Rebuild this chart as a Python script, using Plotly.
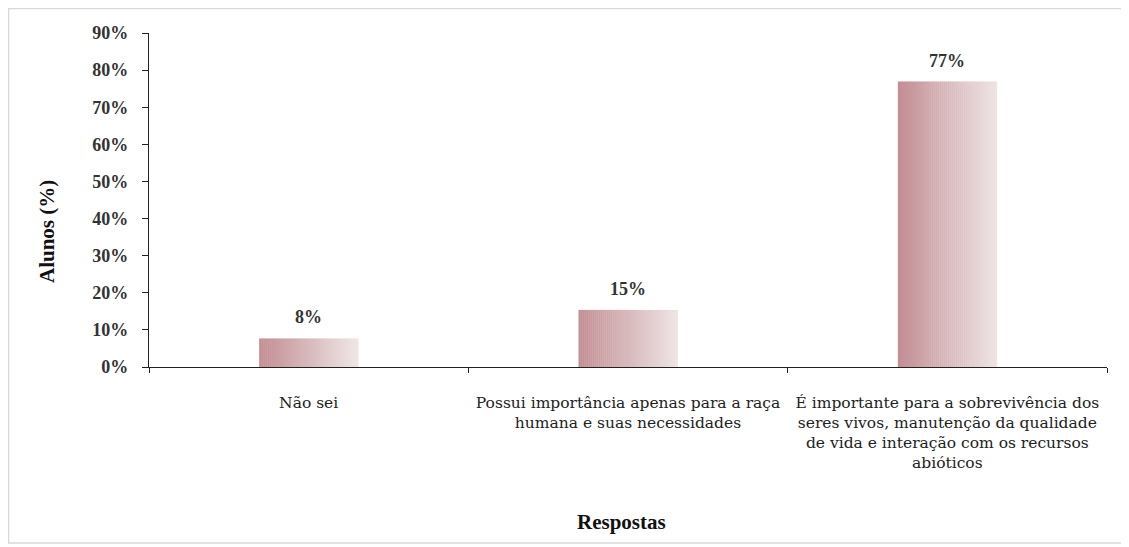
import plotly.graph_objects as go

categories = [
    "Não sei",
    "Possui importância apenas para a raça<br>humana e suas necessidades",
    "É importante para a sobrevivência dos<br>seres vivos, manutenção da qualidade<br>de vida e interação com os recursos<br>abióticos",
]
values = [7.69, 15.38, 76.92]
value_labels = ["8%", "15%", "77%"]
y_ticks = [0, 10, 20, 30, 40, 50, 60, 70, 80, 90]
y_tick_labels = [f"{t}%" for t in y_ticks]
x_title = "Respostas"
y_title = "Alunos (%)"

SERIF = "Liberation Serif"
WIDE_SERIF = "DejaVu Serif"
# page body has an 8px default margin, so the figure is 8px smaller
W, H = 1121, 539
L, R, T, B = 141, 22, 25, 180
PW, PH = W - L - R, H - T - B

fig = go.Figure()

bar_w = 0.31
n_slices = 50
c0 = (194, 142, 148)
c1 = (238, 228, 228)
for i in range(n_slices):
    f = i / (n_slices - 1)
    col = tuple(round(c0[k] + (c1[k] - c0[k]) * f) for k in range(3))
    fig.add_trace(go.Bar(
        x=categories, y=values,
        width=bar_w / n_slices + 0.0012,
        offset=-bar_w / 2 + i * bar_w / n_slices,
        marker=dict(color=f"rgb{col}", line=dict(width=0)),
        showlegend=False, hoverinfo="skip",
    ))

for c, v, lab in zip(categories, values, value_labels):
    fig.add_annotation(x=c, y=v, text=f"<b>{lab}</b>", showarrow=False,
                       yanchor="bottom", yshift=9,
                       font=dict(family=SERIF, size=18, color="#333"))

def px_x(p):
    return (p - L) / PW

def px_y(p):
    return (H - B - p) / PH

# axis titles (placed like the original, slightly off-centre)
fig.add_annotation(xref="paper", yref="paper", x=px_x(613), y=px_y(514),
                   text=f"<b>{x_title}</b>", showarrow=False,
                   xanchor="center", yanchor="middle",
                   font=dict(family=SERIF, size=21, color="#111"))
fig.add_annotation(xref="paper", yref="paper", x=px_x(39), y=px_y(224),
                   text=f"<b>{y_title}</b>", showarrow=False, textangle=-90,
                   xanchor="center", yanchor="middle",
                   font=dict(family=SERIF, size=21, color="#111"))

fig.add_shape(type="rect", xref="paper", yref="paper",
              x0=px_x(0.5), x1=px_x(1116), y0=px_y(535), y1=px_y(0.5),
              line=dict(color="#d9d9d9", width=1.5), fillcolor="rgba(0,0,0,0)")

fig.update_layout(
    width=W, height=H,
    margin=dict(l=L, r=R, t=T, b=B),
    paper_bgcolor="white", plot_bgcolor="white",
    barmode="overlay",
    font=dict(family=SERIF, color="#222"),
    showlegend=False,
)
fig.update_xaxes(
    type="category",
    showline=True, linecolor="#222", linewidth=1.2,
    ticks="outside", tickson="boundaries", ticklen=5, tickcolor="#222",
    tickfont=dict(family=WIDE_SERIF, size=15.5, color="#222"),
    ticklabelstandoff=21,
    showgrid=False, zeroline=False,
    automargin=False,
)
fig.update_yaxes(
    range=[0, 90],
    tickvals=y_ticks, ticktext=[f"<b>{t}</b>" for t in y_tick_labels],
    showline=True, linecolor="#222", linewidth=1.2,
    ticks="outside", ticklen=6, tickcolor="#222",
    tickfont=dict(family=SERIF, size=18, color="#333"),
    ticklabelstandoff=10,
    showgrid=False, zeroline=False,
    automargin=False,
)

fig.write_html("out.html")
